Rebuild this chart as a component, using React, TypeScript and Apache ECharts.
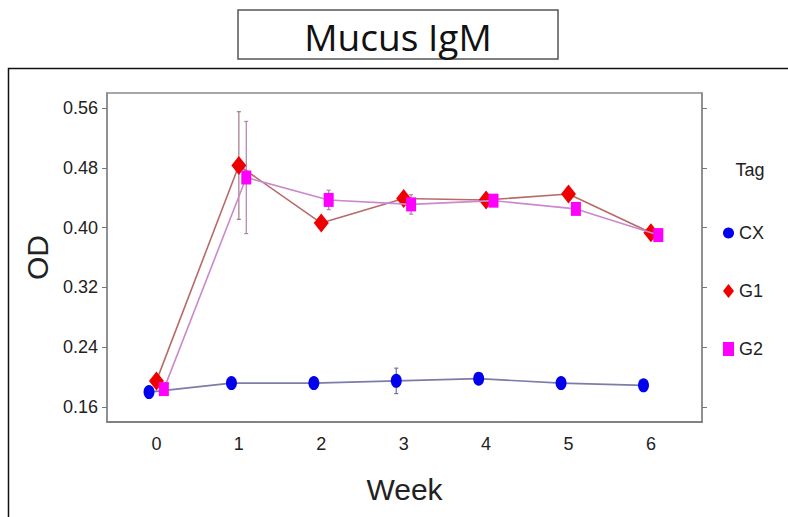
import React, { useEffect, useRef } from "react";
import * as echarts from "echarts";

const weeks = [0, 1, 2, 3, 4, 5, 6];
const seriesNames = ["CX", "G1", "G2"];
const cxValues = [0.180, 0.192, 0.192, 0.195, 0.198, 0.192, 0.189];
const g1Values = [0.195, 0.483, 0.406, 0.439, 0.437, 0.445, 0.393];
const g2Values = [0.184, 0.467, 0.437, 0.431, 0.436, 0.425, 0.390];
const cxErrors = [0.004, 0.004, 0.004, 0.017, 0.005, 0.004, 0.004];
const g1Errors = [0.005, 0.072, 0.006, 0.006, 0.005, 0.006, 0.005];
const g2Errors = [0.004, 0.075, 0.013, 0.013, 0.005, 0.006, 0.004];
const yTickLabels = [0.16, 0.24, 0.32, 0.4, 0.48, 0.56];
const xTickLabels = [0, 1, 2, 3, 4, 5, 6];

const NARROW = "'Liberation Sans', Arial, sans-serif";

export default function App() {
  const ref = useRef<HTMLDivElement>(null);
  useEffect(() => {
    if (!ref.current) return;
    const chart = echarts.init(ref.current, null, { renderer: "svg" });
    const dodge = [-0.09, 0, 0.09];
    const values = [cxValues, g1Values, g2Values];
    const errors = [cxErrors, g1Errors, g2Errors];
    const markerColors = ["#0000ee", "#ee0000", "#ff00ff"];
    const lineColors = ["#7c7caa", "#b86a6a", "#cc88cc"];
    const errColors = ["#7070a0", "#a07888", "#b080b0"];
    const symbols = ["circle", "diamond", "rect"];
    const symbolSizes = [
      [11, 14],
      [15, 19],
      [10, 14],
    ];

    const series: any[] = [];
    values.forEach((vals, i) => {
      series.push({
        type: "custom",
        name: seriesNames[i] + " err",
        z: 1,
        silent: true,
        data: weeks.map((w, k) => [w + dodge[i], vals[k] - errors[i][k], vals[k] + errors[i][k]]),
        renderItem: (params: any, api: any) => {
          const x = api.value(0);
          const lo = api.coord([x, api.value(1)]);
          const hi = api.coord([x, api.value(2)]);
          const st = { stroke: errColors[i], lineWidth: 1.2 };
          return {
            type: "group",
            children: [
              { type: "line", shape: { x1: lo[0], y1: lo[1], x2: hi[0], y2: hi[1] }, style: st },
              { type: "line", shape: { x1: lo[0] - 2, y1: lo[1], x2: lo[0] + 2, y2: lo[1] }, style: st },
              { type: "line", shape: { x1: hi[0] - 2, y1: hi[1], x2: hi[0] + 2, y2: hi[1] }, style: st },
            ],
          };
        },
      });
    });
    values.forEach((vals, i) => {
      series.push({
        type: "line",
        name: seriesNames[i],
        z: 3 + i,
        data: weeks.map((w, k) => [w + dodge[i], vals[k]]),
        symbol: symbols[i],
        symbolSize: symbolSizes[i],
        itemStyle: { color: markerColors[i] },
        lineStyle: { color: lineColors[i], width: 1.6 },
      });
    });

    chart.setOption({
      animation: false,
      backgroundColor: "#ffffff",
      graphic: [
        {
          type: "rect",
          shape: { x: 8.5, y: 68.5, width: 900, height: 600 },
          style: { fill: "none", stroke: "#111", lineWidth: 1.5 },
          z: 0,
        },
        {
          type: "rect",
          shape: { x: 238, y: 10, width: 320, height: 49 },
          style: { fill: "#fff", stroke: "#555", lineWidth: 1.5 },
        },
        {
          type: "text",
          x: 398,
          y: 36,
          style: {
            text: "Mucus IgM",
            font: "normal 37px 'Open Sans', sans-serif",
            fill: "#111",
            textAlign: "center",
            textVerticalAlign: "middle",
          },
        },
        {
          type: "text",
          x: 750,
          y: 170,
          style: {
            text: "Tag",
            font: "normal 18px " + NARROW,
            fill: "#222",
            textAlign: "center",
            textVerticalAlign: "middle",
          },
        },
      ],
      legend: {
        orient: "vertical",
        left: 718,
        top: 219,
        itemWidth: 11,
        itemHeight: 14,
        itemGap: 40,
        data: [
          { name: "CX", icon: "circle" },
          { name: "G1", icon: "diamond" },
          { name: "G2", icon: "rect" },
        ],
        textStyle: { fontFamily: NARROW, fontSize: 18, color: "#222" },
      },
      grid: {
        left: 107,
        top: 93,
        right: 86,
        bottom: 95,
        show: true,
        borderColor: "#8a8a8a",
        borderWidth: 1.5,
        backgroundColor: "#fff",
      },
      xAxis: {
        type: "value",
        min: -0.6,
        max: 6.62,
        name: "Week",
        nameLocation: "middle",
        nameGap: 52,
        nameTextStyle: { fontFamily: NARROW, fontSize: 30, color: "#222" },
        axisLine: { show: true, onZero: false, lineStyle: { color: "#777", width: 1.5 } },
        axisTick: { show: false },
        splitLine: { show: false },
        axisLabel: {
          customValues: xTickLabels,
          margin: 13,
          fontFamily: NARROW,
          fontSize: 18,
          color: "#222",
        },
      },
      yAxis: [
        {
          type: "value",
          min: 0.14,
          max: 0.58,
          position: "left",
          name: "OD",
          nameLocation: "middle",
          nameGap: 54,
          nameRotate: 90,
          nameTextStyle: { fontFamily: NARROW, fontSize: 30, color: "#222" },
          axisLine: { show: true, onZero: false, lineStyle: { color: "#888", width: 1.5 } },
          axisTick: { show: true, customValues: yTickLabels, length: 5, lineStyle: { color: "#777" } },
          splitLine: { show: false },
          axisLabel: {
            customValues: yTickLabels,
            margin: 9,
            fontFamily: NARROW,
            fontSize: 18,
            color: "#222",
            formatter: (v: number) => v.toFixed(2),
          },
        },
        {
          type: "value",
          min: 0.14,
          max: 0.58,
          position: "right",
          axisLine: { show: true, onZero: false, lineStyle: { color: "#888", width: 1.5 } },
          axisTick: { show: true, customValues: yTickLabels, length: 5, lineStyle: { color: "#777" } },
          splitLine: { show: false },
          axisLabel: { show: false },
        },
      ],
      series,
    });
    return () => chart.dispose();
  }, []);
  return (
    <div
      ref={ref}
      style={{ position: "absolute", left: 0, top: 0, width: 788, height: 517, background: "#fff" }}
    />
  );
}
